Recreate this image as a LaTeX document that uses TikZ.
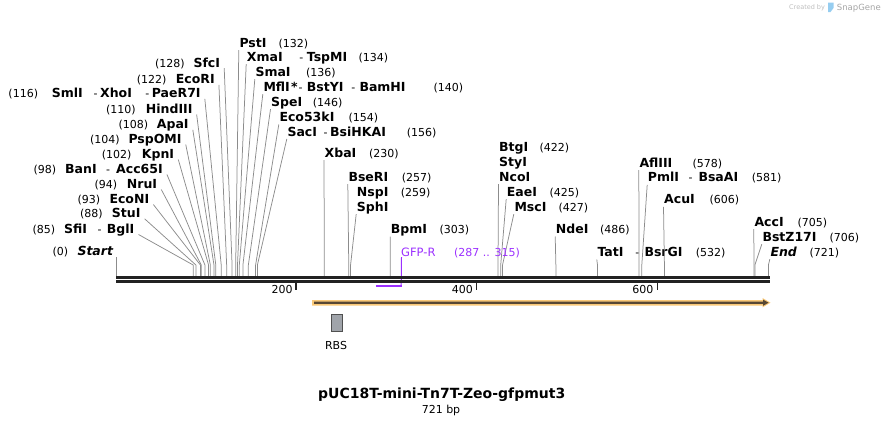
\documentclass[tikz,border=0pt]{standalone}
\usepackage{fontspec}
\setmainfont{DejaVu Sans}
\usetikzlibrary{arrows.meta}
\definecolor{leadc}{RGB}{140,140,140}
\definecolor{bbone}{RGB}{34,34,34}
\definecolor{gfpc}{RGB}{155,48,255}
\definecolor{orfl}{RGB}{250,201,120}
\definecolor{orfd}{RGB}{88,72,52}
\definecolor{rbsfill}{RGB}{160,164,170}
\definecolor{rbsline}{RGB}{80,80,80}
\definecolor{wmgray}{RGB}{190,190,190}
\definecolor{wmdark}{RGB}{165,165,165}
\definecolor{wmblue}{RGB}{150,205,240}
\newcommand\sitex[1]{116.3+0.9045*#1}
\newcommand\leadL[2]{\draw[lead] ([shift={(4,1)}]#1.base east) -- ({\sitex{#2}},265) -- ({\sitex{#2}},276);}
\newcommand\leadR[2]{\draw[lead] ([shift={(-0.5,3)}]#1.base west) -- ({\sitex{#2}},265) -- ({\sitex{#2}},276);}
\begin{document}
\begin{tikzpicture}[x=1pt,y=-1pt,
 nm/.style={anchor=base west,inner sep=0pt,font=\fontsize{12.5}{14}\selectfont\bfseries},
 nmi/.style={anchor=base west,inner sep=0pt,font=\fontsize{12.5}{14}\selectfont\bfseries\itshape},
 nb/.style={anchor=base west,inner sep=0pt,font=\fontsize{11}{13}\selectfont},
 hy/.style={anchor=base west,inner sep=0pt,font=\fontsize{11}{13}\selectfont,xshift=-1.5pt},
 lead/.style={draw=leadc,line width=0.75pt},
]
\useasboundingbox (0,0) rectangle (886,426);

% watermark
\node[anchor=base west,inner sep=0pt,font=\fontsize{6.5}{8}\selectfont,text=wmgray] (wm1) at (789,9.5) {Created by};
\fill[wmblue] (828,2.5) -- (833.5,2.5) -- (833.5,8) -- (830.5,12) -- (828,12) -- cycle;
\node[anchor=base west,inner sep=0pt,font=\fontsize{8.5}{10}\selectfont,text=wmdark] (wm2) at (836.7,10.5) {SnapGene};

% ---- left group ----
\node[nb] at (155,67.2) {(128)}; \node[nm] (L128) at (193.3,67.2) {SfcI};
\node[nb] at (136.7,83.8) {(122)}; \node[nm] (L122) at (175.7,83.8) {EcoRI};
\node[nb] at (8.3,97.8) {(116)}; \node[nm] at (51.7,97.8) {SmlI}; \node[hy] at (95,97.8) {-};
\node[nm] at (100,97.8) {XhoI}; \node[hy] at (146.7,97.8) {-}; \node[nm] (L116) at (151.7,97.8) {PaeR7I};
\node[nb] at (106,113.5) {(110)}; \node[nm] (L110) at (145.7,113.5) {HindIII};
\node[nb] at (118.3,128.8) {(108)}; \node[nm] (L108) at (156.7,128.8) {ApaI};
\node[nb] at (90,143.5) {(104)}; \node[nm] (L104) at (128.3,143.5) {PspOMI};
\node[nb] at (101.7,158.5) {(102)}; \node[nm] (L102) at (141.7,158.5) {KpnI};
\node[nb] at (33.3,173.5) {(98)}; \node[nm] at (65,173.5) {BanI}; \node[hy] at (107.3,173.5) {-};
\node[nm] (L98) at (116,173.5) {Acc65I};
\node[nb] at (94.3,188.5) {(94)}; \node[nm] (L94) at (126.7,188.5) {NruI};
\node[nb] at (77.3,203.5) {(93)}; \node[nm] (L93) at (109.3,203.5) {EcoNI};
\node[nb] at (80,217.8) {(88)}; \node[nm] (L88) at (111.7,217.8) {StuI};
\node[nb] at (32.3,233.5) {(85)}; \node[nm] at (64,233.5) {SfiI}; \node[hy] at (99,233.5) {-};
\node[nm] (L85) at (106.7,233.5) {BglI};
\node[nb] at (52.3,255.5) {(0)}; \node[nmi] (L0) at (77.3,255.5) {Start};

\leadL{L128}{128} \leadL{L122}{122} \leadL{L116}{116} \leadL{L110}{110}
\leadL{L108}{108} \leadL{L104}{104} \leadL{L102}{102} \leadL{L98}{98}
\leadL{L94}{94} \leadL{L93}{93} \leadL{L88}{88} \leadL{L85}{85}
\coordinate (s0) at ({\sitex{0}},257);
\draw[lead] (s0) -- ({\sitex{0}},276);

% ---- right group ----
\node[nm] (R132) at (239.3,47.2) {PstI}; \node[nb] at (278.3,47.2) {(132)};
\node[nm] (R134) at (246.7,61.2) {XmaI}; \node[hy] at (300.7,61.2) {-}; \node[nm] at (306.7,61.2) {TspMI}; \node[nb] at (358.3,61.2) {(134)};
\node[nm] (R136) at (255.3,76.2) {SmaI}; \node[nb] at (306,76.2) {(136)};
\node[nm] (R140) at (263.3,91.2) {MflI}; \node[nm] at (291,91.2) {*}; \node[hy] at (300,91.2) {-};
\node[nm] at (306.7,91.2) {BstYI}; \node[hy] at (352.7,91.2) {-}; \node[nm] at (359.3,91.2) {BamHI}; \node[nb] at (433.3,91.2) {(140)};
\node[nm] (R146) at (271,106.2) {SpeI}; \node[nb] at (312.7,106.2) {(146)};
\node[nm] (R154) at (279.3,121.5) {Eco53kI}; \node[nb] at (348.3,121.5) {(154)};
\node[nm] (R156) at (287.3,136) {SacI}; \node[hy] at (325,136) {-}; \node[nm] at (330,136) {BsiHKAI}; \node[nb] at (406.7,136) {(156)};
\node[nm] (R230) at (324.5,157) {XbaI}; \node[nb] at (369,157) {(230)};
\node[nm] (R257) at (348.3,181.2) {BseRI}; \node[nb] at (401.7,181.2) {(257)};
\node[nm] at (356.7,196.2) {NspI}; \node[nb] at (400.7,196.2) {(259)};
\node[nm] (R259) at (356.7,211.2) {SphI};
\node[nm] (R303) at (390.7,233.5) {BpmI}; \node[nb] at (439.3,233.5) {(303)};
\node[nm] at (499,151.2) {BtgI}; \node[nb] at (539.3,151.2) {(422)};
\node[nm] at (499,166.2) {StyI};
\node[nm] (R422) at (499,181.2) {NcoI};
\node[nm] (R425) at (506.7,196.2) {EaeI}; \node[nb] at (549.3,196.2) {(425)};
\node[nm] (R427) at (514.3,211.2) {MscI}; \node[nb] at (558.3,211.2) {(427)};
\node[nm] (R486) at (555.7,233.5) {NdeI}; \node[nb] at (600,233.5) {(486)};
\node[nm] (R532) at (597.3,256.5) {TatI}; \node[hy] at (636.7,256.5) {-}; \node[nm] at (644.3,256.5) {BsrGI}; \node[nb] at (695.7,256.5) {(532)};
\node[nm] (R578) at (639.3,167.2) {AflIII}; \node[nb] at (692.3,167.2) {(578)};
\node[nm] (R581) at (647.7,181.8) {PmlI}; \node[hy] at (690,181.8) {-}; \node[nm] at (698.3,181.8) {BsaAI}; \node[nb] at (751.7,181.8) {(581)};
\node[nm] (R606) at (664,203.8) {AcuI}; \node[nb] at (709.3,203.8) {(606)};
\node[nm] (R705) at (754.3,226.2) {AccI}; \node[nb] at (797.3,226.2) {(705)};
\node[nm] (R706) at (762.3,241.2) {BstZ17I}; \node[nb] at (829.3,241.2) {(706)};
\node[nmi] (R721) at (770.3,256.2) {End}; \node[nb] at (809.3,256.2) {(721)};

\leadR{R132}{132} \leadR{R134}{134} \leadR{R136}{136} \leadR{R140}{140}
\leadR{R146}{146} \leadR{R154}{154} \leadR{R156}{156} \leadR{R230}{230}
\leadR{R257}{257} \leadR{R259}{259} \leadR{R303}{303} \leadR{R422}{422}
\leadR{R425}{425} \leadR{R427}{427} \leadR{R486}{486} \leadR{R532}{532}
\leadR{R578}{578} \leadR{R581}{581} \leadR{R606}{606} \leadR{R705}{705}
\leadR{R706}{706} \leadR{R721}{721}

% ---- primer GFP-R ----
\node[nb,font=\fontsize{11.5}{13}\selectfont,text=gfpc] (gfpr) at (401,256) {GFP-R};
\node[nb,text=gfpc] (gfprn) at (454,256) {(287 .. 315)};
\coordinate (gfpe) at ({\sitex{315}},285.7);
\coordinate (gfps) at ({\sitex{287}},285.7);
\draw[gfpc,line width=1pt] ([shift={(0.5,1)}]gfpr.base west) -- (gfpe);
\draw[gfpc,line width=2pt] (gfps) -- ([shift={(0.5,0)}]gfpe);

% ---- backbone ----
\coordinate (bbL) at (116,277.3); \coordinate (bbR) at (770,277.3);
\draw[bbone,line width=2.7pt] (bbL) -- (bbR);
\draw[bbone,line width=2.5pt] ([shift={(0,4.2)}]bbL) -- ([shift={(0,4.2)}]bbR);

% ticks
\draw[bbone,line width=1.4pt] (296,282.7) -- (296,290);
\draw[bbone,line width=1.4pt] (476.7,282.7) -- (476.7,290);
\draw[bbone,line width=1.4pt] (657.3,282.7) -- (657.3,290);
\node[nb,anchor=base east] at (292.7,293.3) {200};
\node[nb,anchor=base east] at (473,293.3) {400};
\node[nb,anchor=base east] at (653.6,293.3) {600};

% ---- ORF arrow ----
\fill[orfl] (312,300) -- (762.5,300) -- (762.5,298) -- (770.5,302.7) -- (762.5,307.4) -- (762.5,305.5) -- (312,305.5) -- cycle;
\fill[orfd] (314,301.6) -- (763,301.6) -- (763,299.6) -- (768.6,302.7) -- (763,305.8) -- (763,303.9) -- (314,303.9) -- cycle;

% ---- RBS ----
\node[draw=rbsline,fill=rbsfill,line width=0.8pt,minimum width=11.5pt,minimum height=16.5pt,inner sep=0pt] (rbs) at (337,322.7) {};
\node[nb,anchor=center] (rbsl) at (336,345) {RBS};

% ---- title ----
\node[inner sep=0pt,font=\fontsize{14}{16}\selectfont\bfseries] (title) at (441.7,395) {pUC18T-mini-Tn7T-Zeo-gfpmut3};
\node[inner sep=0pt,font=\fontsize{11}{13}\selectfont] (len) at (441,410.7) {721 bp};
\end{tikzpicture}
\end{document}
